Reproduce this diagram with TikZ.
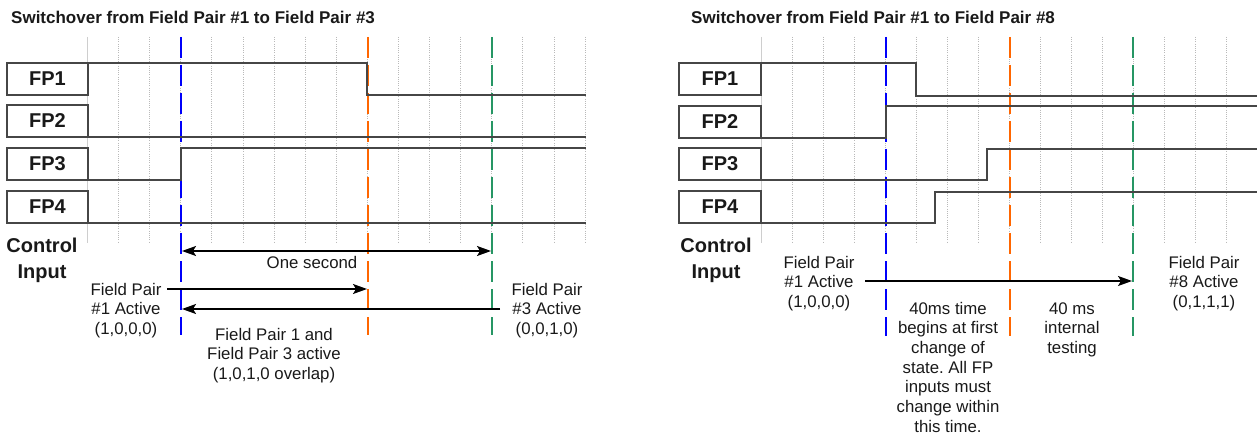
\documentclass[tikz,border=0pt]{standalone}
\usepackage{fontspec}
\setmainfont{Liberation Sans}
\usetikzlibrary{arrows.meta}
\frenchspacing
\definecolor{cblue}{RGB}{0,0,250}
\definecolor{corange}{RGB}{255,102,0}
\definecolor{cgreen}{RGB}{38,150,100}
\definecolor{gridc}{RGB}{185,185,185}
\definecolor{sig}{RGB}{70,70,70}
\definecolor{txt}{RGB}{25,25,25}
\begin{document}
\begin{tikzpicture}[x=1pt,y=-1pt,
  fpbox/.style={draw=sig,line width=1.1pt,minimum width=81pt,minimum height=32pt,inner sep=0pt,outer sep=0pt,
    font=\fontsize{20}{24}\selectfont\bfseries,text=txt,anchor=north west},
  gridline/.style={gridc,line width=1pt,dash pattern=on 1pt off 1.2pt},
  gridsolid/.style={gridc!70,line width=0.8pt},
  cdash/.style={line width=2.8pt,dash pattern=on 21pt off 7pt},
  signal/.style={sig,line width=1.2pt},
  titlefont/.style={font=\fontsize{17}{20}\selectfont\bfseries,text=txt,inner sep=0pt},
  ctl/.style={font=\fontsize{20}{25}\selectfont\bfseries,text=txt,align=center,inner sep=0pt},
  lbl/.style={font=\fontsize{16.8}{19.7}\selectfont,text=txt,align=center,inner sep=0pt},
  arr/.style={line width=1.5pt,-{Stealth[length=14pt,width=10pt,inset=3pt]}},
  darr/.style={line width=1.5pt,{Stealth[length=14pt,width=10pt,inset=3pt]}-{Stealth[length=14pt,width=10pt,inset=3pt]}}
]
\useasboundingbox (0,0) rectangle (1257,438);

% ================= LEFT PANEL =================
\node[titlefont,anchor=base west] (titleL) at (11,24) {Switchover from Field Pair \#1 to Field Pair \#3};

% grid
\draw[gridsolid] (87.5,37) -- (87.5,243);
\foreach \k in {1,...,16} \draw[gridline] ({87.5+31.1*\k},37) -- ({87.5+31.1*\k},243);

% colored markers
\draw[cdash,cblue] (181,37) -- (181,335);
\draw[cdash,corange] (368,37) -- (368,335);
\draw[cdash,cgreen] (492,37) -- (492,335);

% boxes
\node[fpbox] (fp1L) at (7,63) {FP1};
\node[fpbox] (fp2L) at (7,105) {FP2};
\node[fpbox] (fp3L) at (7,148) {FP3};
\node[fpbox] (fp4L) at (7,191) {FP4};

% signals
\draw[signal] (fp1L.north east) -- (367,63) -- (367,95) -- (586,95);
\draw[signal] (fp2L.south east) -- (586,137);
\draw[signal] (fp3L.south east) -- (181,180) -- (181,148) -- (586,148);
\draw[signal] (fp4L.south east) -- (586,223);

\node[ctl,anchor=base] (ctlL) at (42,278) {Control\\Input};

% arrows
\coordinate (osA) at (182,251);
\coordinate (osB) at (491,251);
\draw[darr] (osA) -- (osB);
\node[lbl,anchor=base] (oneS) at (312,268) {One second};

\node[lbl,anchor=base] (fpa1L) at (126,334.4) {Field Pair\\\#1 Active\\(1,0,0,0)};
\node[lbl,anchor=base] (fpa3L) at (547,334.4) {Field Pair\\\#3 Active\\(0,0,1,0)};
\coordinate (a1s) at (167,289);
\coordinate (a1e) at (367,289);
\draw[arr] (a1s) -- (a1e);
\coordinate (a2s) at (500,309);
\coordinate (a2e) at (182,309);
\draw[arr] (a2s) -- (a2e);

\node[lbl,anchor=base] (ovl) at (274,379.4) {Field Pair 1 and\\Field Pair 3 active\\(1,0,1,0 overlap)};

% ================= RIGHT PANEL =================
\node[titlefont,anchor=base west] (titleR) at (691,24) {Switchover from Field Pair \#1 to Field Pair \#8};

\draw[gridsolid] (761,37) -- (761,243);
\foreach \k in {1,...,15} \draw[gridline] ({761+31.05*\k},37) -- ({761+31.05*\k},243);

\draw[cdash,cblue] (886,37) -- (886,336);
\draw[cdash,corange] (1010,37) -- (1010,336);
\draw[cdash,cgreen] (1133,37) -- (1133,336);

\node[fpbox,minimum width=82pt] (fp1R) at (679,63) {FP1};
\node[fpbox,minimum width=82pt] (fp2R) at (679,106) {FP2};
\node[fpbox,minimum width=82pt] (fp3R) at (679,148) {FP3};
\node[fpbox,minimum width=82pt] (fp4R) at (679,191) {FP4};

\draw[signal] (fp1R.north east) -- (916,63) -- (916,96) -- (1257,96);
\draw[signal] (fp2R.south east) -- (886,138) -- (886,106) -- (1257,106);
\draw[signal] (fp3R.south east) -- (987,180) -- (987,149) -- (1257,149);
\draw[signal] (fp4R.south east) -- (935,223) -- (935,192) -- (1257,192);

\node[ctl,anchor=base] (ctlR) at (716,278) {Control\\Input};

\node[lbl,anchor=base] (fpa1R) at (819,307.4) {Field Pair\\\#1 Active\\(1,0,0,0)};
\node[lbl,anchor=base] (fpa8R) at (1204,307.4) {Field Pair\\\#8 Active\\(0,1,1,1)};
\coordinate (a3s) at (865,281);
\coordinate (a3e) at (1132,281);
\draw[arr] (a3s) -- (a3e);

\node[lbl,anchor=base] (t40) at (948,432.2) {40ms time\\begins at first\\change of\\state. All FP\\inputs must\\change within\\this time.};
\node[lbl,anchor=base] (t40b) at (1072,353.4) {40 ms\\internal\\testing};

\end{tikzpicture}
\end{document}
